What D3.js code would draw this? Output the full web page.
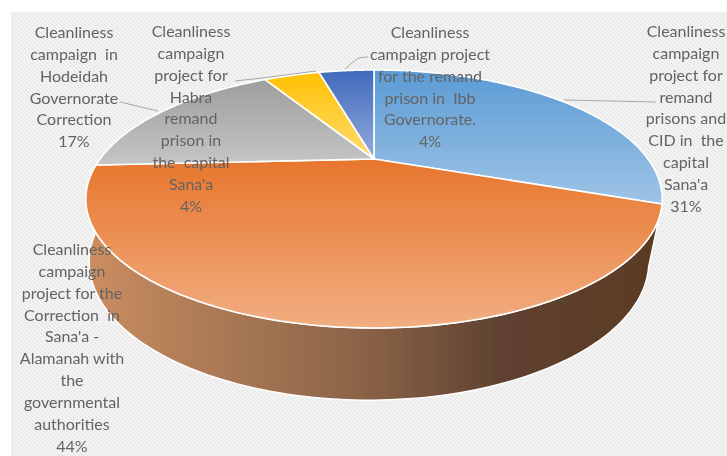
<!DOCTYPE html>
<html><head><meta charset="utf-8">
<script src="https://cdn.jsdelivr.net/npm/d3@7"></script>
<style>html,body{margin:0;padding:0;background:#fff;overflow:hidden}svg{display:block}</style>
</head><body><svg id="c" width="727" height="456"></svg>
<script>
const categories = [
 "Cleanliness campaign project for remand prisons and CID in the capital Sana'a",
 "Cleanliness campaign project for the Correction in Sana'a - Alamanah with the governmental authorities",
 "Cleanliness campaign in Hodeidah Governorate Correction",
 "Cleanliness campaign project for Habra remand prison in the capital Sana'a",
 "Cleanliness campaign project for the remand prison in Ibb Governorate."
];
const shares = [30.6, 43.6, 17.4, 4.2, 4.2];
const labelLines = [
 ["Cleanliness","campaign","project for","remand","prisons and","CID in  the","capital","Sana'a"],
 ["Cleanliness","campaign","project for the","Correction  in","Sana'a -","Alamanah with","the","governmental","authorities"],
 ["Cleanliness","campaign  in","Hodeidah","Governorate","Correction"],
 ["Cleanliness","campaign","project for","Habra","remand","prison in","the  capital","Sana'a"],
 ["Cleanliness","campaign project","for the remand","prison in  Ibb","Governorate."]
];
const percentLabels = ["31%","44%","17%","4%","4%"];
const labelX = [686, 72, 74, 191, 430];
const labelTop = [32, 250, 33, 32, 33];
const leaders = [
 [[564,100],[656,102]],
 [],
 [[120,102],[158,111]],
 [[235,81],[262,78],[316,71]],
 [[345,69],[358,58],[368,57]]
];
const topStops = [
 ["#5b9bd5","#9fc4e6",70,205],
 ["#e8762d","#f1ae82",160,328],
 ["#9d9d9d","#c6c6c6",78,166],
 ["#ffc000","#ffd966",71,150],
 ["#4069bd","#8fa9dc",70,155]
];
const wallStops = [[90,"#cc8d60"],[170,"#b58059"],[360,"#8b6448"],[500,"#5f4231"],[660,"#5a3a23"]];

const svg = d3.select("#c");
const defs = svg.append("defs");
defs.append("filter").attr("id","soft").attr("x","-5%").attr("y","-5%").attr("width","110%").attr("height","110%")
  .append("feGaussianBlur").attr("stdDeviation",0.4);

// hatch background
const pat = defs.append("pattern").attr("id","hatch").attr("width",4).attr("height",4)
  .attr("patternUnits","userSpaceOnUse");
pat.append("rect").attr("width",4).attr("height",4).attr("fill","#f7f7f7");
pat.append("path").attr("d","M-1,-1L5,5M-1,3L1,5M3,-1L5,1").attr("stroke","#e8e8e8").attr("stroke-width",1.5);
svg.append("rect").attr("x",12).attr("y",13).attr("width",715).attr("height",443)
  .attr("fill","url(#hatch)").attr("stroke","#e6e6e6").attr("stroke-width",1);

// perspective projection of the disc
const C = -0.31;
function projector(cx, cy, mx, my){
  return a => {
    const u = -Math.cos(a), v = Math.sin(a), d = 1 + C*u;
    return [cx + mx*v/d, cy + my*u/d];
  };
}
const topRim = projector(374,159,274,116.6);
const botRim = projector(369,219,266,125);

const pie = d3.pie().sort(null).value(d=>d)(shares);
const line = d3.line();
const arcPts = (f,a0,a1,n=90) => d3.range(n+1).map(i=>f(a0+(a1-a0)*i/n));

// gradients
topStops.forEach((s,i)=>{
  const g = defs.append("linearGradient").attr("id","t"+i).attr("gradientUnits","userSpaceOnUse")
    .attr("x1",0).attr("x2",0).attr("y1",s[2]).attr("y2",s[3]);
  g.append("stop").attr("offset",0).attr("stop-color",s[0]);
  g.append("stop").attr("offset",1).attr("stop-color",s[1]);
});
const wg = defs.append("linearGradient").attr("id","wall").attr("gradientUnits","userSpaceOnUse")
  .attr("x1",90).attr("x2",660).attr("y1",0).attr("y2",0);
wallStops.forEach(s=>wg.append("stop").attr("offset",(s[0]-90)/570).attr("stop-color",s[1]));

const marks = svg.append("g").attr("filter","url(#soft)");

// side wall of the large slice
const o = pie[1];
const wallPts = arcPts(topRim,o.startAngle,o.endAngle,120)
  .concat(arcPts(botRim,o.endAngle,o.startAngle,120));
marks.append("path").attr("d",line(wallPts)+"Z").attr("fill","url(#wall)")
  .attr("stroke","#fff").attr("stroke-width",1.5).attr("stroke-linejoin","round");

// top faces
const centre = [374,159];
marks.append("g").selectAll("path").data(pie).join("path")
  .attr("d",d=>line([centre].concat(arcPts(topRim,d.startAngle,d.endAngle)))+"Z")
  .attr("fill",(d,i)=>`url(#t${i})`)
  .attr("stroke","#fff").attr("stroke-width",1.6).attr("stroke-linejoin","round");

// leader lines
marks.append("g").selectAll("path").data(leaders.filter(l=>l.length)).join("path")
  .attr("d",d=>line(d)).attr("fill","none").attr("stroke","#a8a8a8").attr("stroke-width",1);

// labels
const lh = 21.85;
const g = svg.append("g").attr("font-family","Lato, 'Open Sans', sans-serif").attr("font-size",16)
  .attr("fill","#636363").attr("text-anchor","middle").attr("filter","url(#soft)");
labelLines.forEach((lines,i)=>{
  lines.concat([percentLabels[i]]).forEach((t,j)=>{
    g.append("text").attr("x",labelX[i]).attr("y",labelTop[i]+j*lh+5)
      .style("white-space","pre").text(t);
  });
});
</script></body></html>
